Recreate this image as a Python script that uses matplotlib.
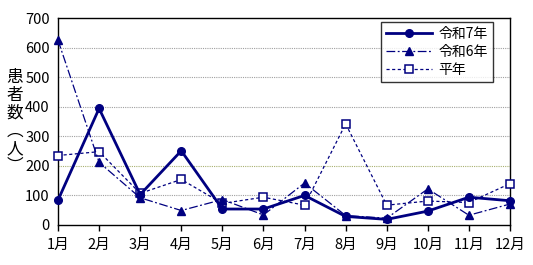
import matplotlib
matplotlib.use("Agg")
import matplotlib.pyplot as plt
import numpy as np

plt.rcParams['font.family'] = ['Noto Sans CJK JP', 'DejaVu Sans']

months = ["1月", "2月", "3月", "4月", "5月", "6月", "7月", "8月", "9月", "10月", "11月", "12月"]
r7 = [84, 394, 103, 251, 54, 54, 100, 29, 19, 47, 94, 82]
r6 = [625, 212, 92, 49, 86, 34, 142, 32, 23, 122, 33, 71]
heinen = [235, 248, 107, 154, 73, 94, 67, 342, 67, 81, 76, 140]
yticks = [0, 100, 200, 300, 400, 500, 600, 700]

navy = "#000080"
x = np.arange(1, 13)

fig = plt.figure(figsize=(5.33, 2.65), dpi=100)
ax = fig.add_axes([58 / 533, 1 - 225 / 265, 452 / 533, 207 / 265])

# gridlines
for v in yticks[1:-1]:
    c = "#a8b070" if v == 200 else "#a0a0a0"
    ax.axhline(v, color=c, lw=0.8, ls=(0, (1, 1)), zorder=0)

ax.plot(x, heinen, color=navy, lw=0.9, ls=(0, (2.5, 2)), marker="s", ms=5.5,
        mfc="white", mec=navy, mew=1.1, label="平年", clip_on=False, zorder=3)
ax.plot(x, r6, color=navy, lw=0.9, ls=(0, (7, 2, 1.5, 2)), marker="^", ms=5.5,
        mfc=navy, mec=navy, label="令和6年", clip_on=False, zorder=4)
ax.plot(x, r7, color=navy, lw=2, ls="-", marker="o", ms=5.5,
        mfc=navy, mec=navy, label="令和7年", clip_on=False, zorder=5)

ax.set_xlim(1, 12)
ax.set_ylim(0, 700)
ax.set_xticks(x)
ax.set_xticklabels(months)
ax.set_yticks(yticks)
ax.tick_params(axis="x", direction="out", length=4, width=1, pad=5, labelsize=10.5)
ax.tick_params(axis="y", length=0, pad=6, labelsize=10.5)
for s in ax.spines.values():
    s.set_linewidth(1)
    s.set_color("black")

handles, labels = ax.get_legend_handles_labels()
order = [2, 1, 0]
leg = ax.legend([handles[i] for i in order], [labels[i] for i in order],
                loc="upper right", bbox_to_anchor=(0.962, 0.98), borderaxespad=0,
                fontsize=10, frameon=True, fancybox=False, edgecolor="black",
                handlelength=3.3, borderpad=0.35, labelspacing=0.3, handletextpad=0.5)
leg.get_frame().set_linewidth(1)

fig.text(15 / 533, 1 - 122 / 265, "\n".join("患者数︵人︶"), fontsize=12,
         ha="center", va="center", linespacing=1.05)

fig.savefig("out.png", dpi=100)
